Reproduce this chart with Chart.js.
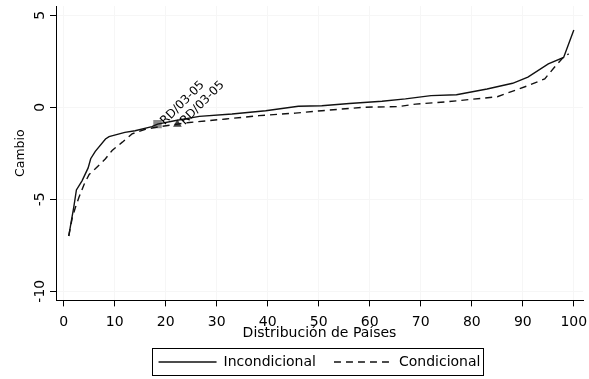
<!DOCTYPE html>
<html>
<head>
<meta charset="utf-8">
<script src="https://cdn.jsdelivr.net/npm/chart.js@4.4.1/dist/chart.umd.min.js"></script>
<style>
  html, body { margin: 0; padding: 0; background: #fff; }
  #wrap { width: 589px; height: 379px; position: relative; }
</style>
</head>
<body>
<div id="wrap"><canvas id="chart"></canvas></div>
<script>
// percentile of the country distribution (x) and change (y) for each curve
const seriesNames = ["Incondicional", "Condicional"];
const xIncond = [1, 1.4, 2, 2.5, 3.6, 4.8, 5.3, 6.2, 8.2, 8.9, 12, 14, 17.3, 18.4, 22, 26.6, 33, 39.6, 46, 50.6, 56, 62.4, 67, 72, 77, 83, 88, 91, 95, 98, 99.2, 100];
const yIncond = [-7.0, -6.35, -5.4, -4.5, -4.0, -3.3, -2.8, -2.4, -1.73, -1.6, -1.37, -1.28, -1.06, -0.92, -0.72, -0.5, -0.37, -0.19, 0.05, 0.08, 0.2, 0.32, 0.45, 0.63, 0.68, 0.99, 1.3, 1.63, 2.35, 2.7, 3.6, 4.2];
const xCond = [1, 1.7, 2.3, 3, 4, 5, 6.2, 8.2, 9.5, 11.5, 13.4, 16, 19, 22.3, 24.6, 31.8, 38.3, 45.4, 50.6, 59, 65.6, 69, 75.4, 85, 91, 94.3, 96.2, 97.9, 99];
const yCond = [-7.0, -6.0, -5.45, -4.9, -4.2, -3.65, -3.35, -2.8, -2.35, -1.9, -1.45, -1.2, -1.05, -0.92, -0.83, -0.64, -0.46, -0.32, -0.19, 0, 0.03, 0.17, 0.3, 0.57, 1.17, 1.54, 2.17, 2.7, 2.9];

// highlighted country (square on first curve, triangle on second)
const markerNames = ["RD/03-05", "RD/03-05"];
const markerX = [18.4, 22.3];
const markerY = [-0.92, -0.92];

const xTicks = [0, 10, 20, 30, 40, 50, 60, 70, 80, 90, 100];
const yTicks = [-10, -5, 0, 5];

Chart.defaults.font.family = "'DejaVu Sans', sans-serif";
Chart.defaults.font.size = 14;
Chart.defaults.color = "#000";

function toPoints(xs, ys) {
  return xs.map((x, i) => ({ x: x, y: ys[i] }));
}

// frame round the legend, like the stata box
const legendFrame = {
  id: "legendFrame",
  afterDraw(chart) {
    const boxes = chart.legend.legendHitBoxes;
    if (!boxes || !boxes.length) return;
    const ctx = chart.ctx;
    let l = Infinity, r = -Infinity, cy = 0;
    boxes.forEach(b => {
      l = Math.min(l, b.left);
      r = Math.max(r, b.left + b.width);
      cy = b.top + b.height / 2;
    });
    ctx.save();
    ctx.strokeStyle = "#000";
    ctx.lineWidth = 1;
    ctx.strokeRect(Math.round(l - 7) + 0.5, Math.round(cy - 14) + 0.5, Math.round(r - l + 9), 27);
    ctx.restore();
  }
};

// rotated country labels next to the markers
const markerText = {
  id: "markerText",
  afterDatasetsDraw(chart) {
    const ctx = chart.ctx;
    ctx.save();
    ctx.font = "12px 'DejaVu Sans', sans-serif";
    ctx.fillStyle = "#000";
    ctx.textAlign = "left";
    ctx.textBaseline = "middle";
    [2, 3].forEach((di, k) => {
      const pt = chart.getDatasetMeta(di).data[0];
      ctx.save();
      ctx.translate(pt.x + 5, pt.y - 1);
      ctx.rotate(-Math.PI / 4);
      ctx.fillText(markerNames[k], 0, 0);
      ctx.restore();
    });
    ctx.restore();
  }
};

new Chart(document.getElementById("chart"), {
  type: "line",
  data: {
    datasets: [
      {
        label: seriesNames[0],
        data: toPoints(xIncond, yIncond),
        borderColor: "#111",
        backgroundColor: "#111",
        borderWidth: 1.4,
        pointRadius: 0,
        tension: 0
      },
      {
        label: seriesNames[1],
        data: toPoints(xCond, yCond),
        borderColor: "#111",
        backgroundColor: "#111",
        borderWidth: 1.4,
        borderDash: [7, 5],
        pointRadius: 0,
        tension: 0
      },
      {
        label: markerNames[0],
        data: [{ x: markerX[0], y: markerY[0] }],
        showLine: false,
        pointStyle: "rect",
        pointRadius: 6,
        pointBackgroundColor: "#8a8a8a",
        pointBorderColor: "#8a8a8a",
        pointBorderWidth: 0
      },
      {
        label: markerNames[1],
        data: [{ x: markerX[1], y: markerY[1] }],
        showLine: false,
        pointStyle: "triangle",
        pointRadius: 5,
        pointBackgroundColor: "#444",
        pointBorderColor: "#444",
        pointBorderWidth: 0
      }
    ]
  },
  options: {
    responsive: true,
    maintainAspectRatio: false,
    animation: false,
    layout: { padding: { top: 6, right: 4, left: 0, bottom: 0 } },
    plugins: {
      tooltip: { enabled: false },
      legend: {
        position: "bottom",
        fullSize: false,
        labels: {
          usePointStyle: true,
          pointStyle: "line",
          pointStyleWidth: 58,
          boxHeight: 14,
          padding: 18,
          color: "#000",
          font: { size: 14 },
          filter: item => item.datasetIndex < 2,
          generateLabels: chart => {
            const items = Chart.defaults.plugins.legend.labels.generateLabels(chart);
            items.forEach(it => {
              const ds = chart.data.datasets[it.datasetIndex];
              it.lineDash = ds.borderDash || [];
              it.lineWidth = ds.borderWidth;
              it.strokeStyle = ds.borderColor;
            });
            return items;
          }
        }
      }
    },
    scales: {
      x: {
        type: "linear",
        min: -1.5,
        max: 101.8,
        afterBuildTicks: s => { s.ticks = xTicks.map(v => ({ value: v })); },
        afterFit: s => { s.paddingRight = 4; s.paddingLeft = 0; },
        ticks: { padding: 8, color: "#000", font: { size: 14 } },
        grid: { color: "#f6f6f6", tickColor: "#000", tickLength: 6, drawOnChartArea: true },
        border: { color: "#000", width: 1 },
        title: {
          display: true,
          text: "Distribución de Países",
          color: "#000",
          font: { size: 14 },
          padding: { top: -14, bottom: -5 }
        }
      },
      y: {
        type: "linear",
        min: -10.5,
        max: 5.5,
        afterBuildTicks: s => { s.ticks = yTicks.map(v => ({ value: v })); },
        afterFit: s => { s.width = 56; s.paddingTop = 0; s.paddingBottom = 0; },
        ticks: { minRotation: 90, maxRotation: 90, crossAlign: "center", padding: -2, color: "#000", font: { size: 14 } },
        grid: { color: "#f6f6f6", tickColor: "#000", tickLength: 6, drawOnChartArea: true },
        border: { color: "#000", width: 1 },
        title: {
          display: true,
          text: "Cambio",
          color: "#000",
          font: { size: 12.5 },
          padding: { top: 13, bottom: 0 }
        }
      }
    }
  },
  plugins: [legendFrame, markerText]
});
</script>
</body>
</html>
